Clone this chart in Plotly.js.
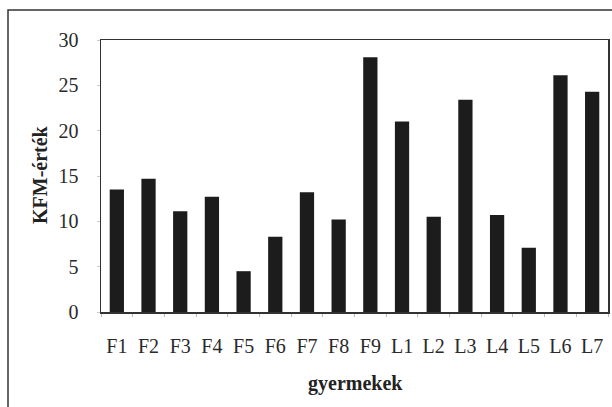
<!DOCTYPE html>
<html>
<head>
<meta charset="utf-8">
<script src="https://cdn.plot.ly/plotly-3.0.1.min.js"></script>
<style>
html,body{margin:0;padding:0;background:#fff;}
#chart{width:612px;height:407px;}
</style>
</head>
<body>
<div id="chart"></div>
<script>
var categories = ["F1","F2","F3","F4","F5","F6","F7","F8","F9","L1","L2","L3","L4","L5","L6","L7"];
var values = [13.5, 14.7, 11.1, 12.7, 4.5, 8.3, 13.2, 10.2, 28.1, 21.0, 10.5, 23.4, 10.7, 7.1, 26.1, 24.3];
var yTicks = [0, 5, 10, 15, 20, 25, 30];
var xTitle = "gyermekek";
var yTitle = "KFM-érték";

var fam = "Liberation Serif";
var font = {family: fam, size: 20, color: "#2a2a2a"};
var L = 101, R = 4, T = 40, B = 95, W = 612, H = 407;
var pw = W - L - R, ph = H - T - B;
function px2x(p){ return (p - L) / pw; }
function py2y(p){ return (H - B - p) / ph; }

var trace = {
  type: "bar",
  x: categories,
  y: values,
  marker: {color: "#1c1c1c", line: {width: 0}},
  hoverinfo: "x+y"
};

var layout = {
  width: W, height: H,
  margin: {l: L, r: R, t: T, b: B, pad: 0},
  paper_bgcolor: "#fff",
  plot_bgcolor: "#fff",
  font: font,
  showlegend: false,
  bargap: 0.55,
  xaxis: {
    type: "category",
    showline: true, mirror: true, linecolor: "#333", linewidth: 1.5,
    showgrid: false, zeroline: false,
    ticks: "outside", ticklen: 3, tickcolor: "#bbb", tickwidth: 1,
    tickson: "boundaries",
    ticklabelstandoff: 15,
    tickfont: font,
    fixedrange: true
  },
  yaxis: {
    range: [0, 30],
    tickvals: yTicks,
    ticktext: yTicks.map(String),
    showline: true, mirror: true, linecolor: "#333", linewidth: 1.5,
    showgrid: false, zeroline: false,
    ticks: "outside", ticklen: 3, tickcolor: "#ccc", tickwidth: 1,
    ticklabelstandoff: 14,
    tickfont: font,
    fixedrange: true
  },
  annotations: [
    {text: "<b>" + xTitle + "</b>", xref: "paper", yref: "paper",
     x: px2x(355), y: py2y(383), xanchor: "center", yanchor: "middle",
     showarrow: false, font: {family: fam, size: 20, color: "#222"}},
    {text: "<b>" + yTitle + "</b>", xref: "paper", yref: "paper",
     x: px2x(40), y: py2y(175), xanchor: "center", yanchor: "middle",
     textangle: -90, showarrow: false, font: {family: fam, size: 20, color: "#222"}}
  ],
  shapes: [
    {type: "rect", xref: "paper", yref: "paper",
     x0: px2x(8), x1: px2x(640), y0: py2y(440), y1: py2y(10),
     line: {color: "#333", width: 1.5}, fillcolor: "rgba(0,0,0,0)", layer: "below"}
  ]
};

Plotly.newPlot("chart", [trace], layout, {displayModeBar: false, staticPlot: true});
</script>
</body>
</html>
